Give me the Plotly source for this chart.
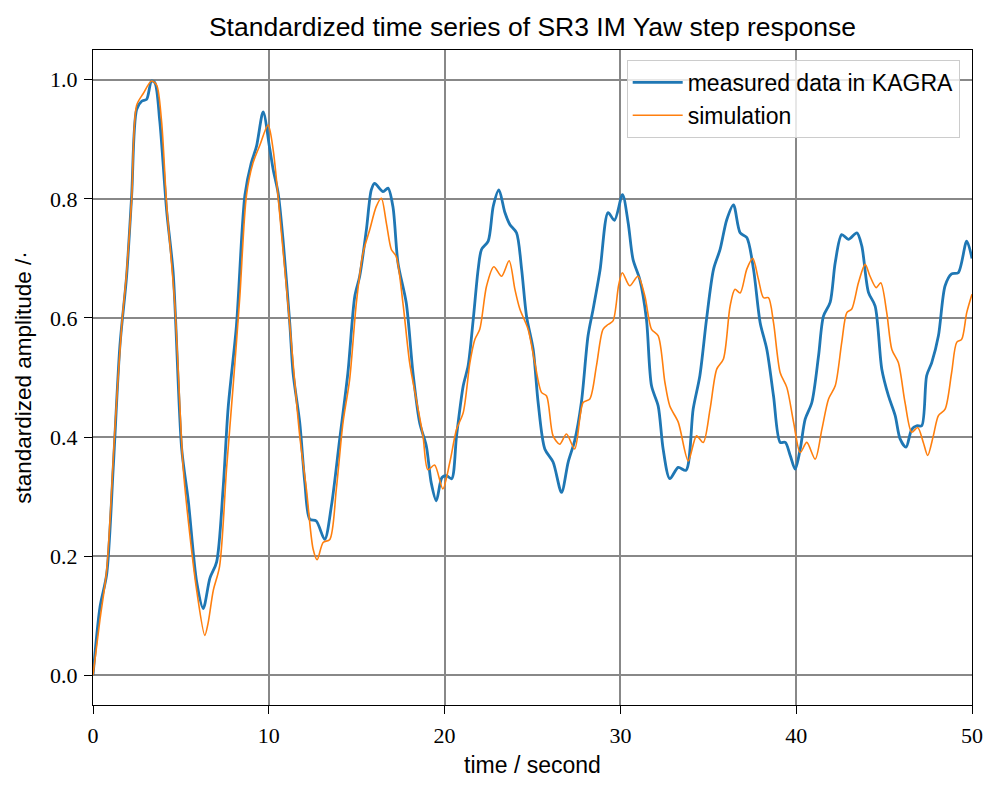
import plotly.graph_objects as go

# Measured step response (KAGRA SR3 IM yaw), standardized
t_meas = [0, 0.4, 0.78, 1.15, 1.53, 1.91, 2.2, 2.48, 2.77, 3.05, 3.33, 3.52, 3.8, 4.19,
          4.56, 5.04, 5.42, 5.9, 6.27, 6.65, 7.03, 7.4, 7.69, 8.16, 8.64, 9.0, 9.3, 9.68,
          10.05, 10.25, 10.53, 10.81, 11.19, 11.38, 11.76, 12.05, 12.33, 12.7, 13.18,
          13.56, 14.03, 14.5, 14.89, 15.17, 15.55, 15.83, 16.02, 16.5, 16.78, 17.06,
          17.35, 17.82, 18.2, 18.58, 18.96, 19.24, 19.53, 19.85, 20.11, 20.4, 20.68,
          21.06, 21.34, 21.63, 21.91, 22.1, 22.48, 22.77, 23.09, 23.43, 23.71, 24.09,
          24.38, 24.66, 25.04, 25.32, 25.7, 26.17, 26.65, 27.03, 27.4, 27.78, 28.16,
          28.45, 28.84, 29.3, 29.66, 30.12, 30.44, 30.72, 31.1, 31.48, 31.77, 32.15,
          32.43, 32.81, 33.29, 33.73, 34.14, 34.52, 34.9, 35.3, 35.67, 36.05, 36.43,
          36.81, 37.19, 37.57, 37.95, 38.33, 38.71, 39.09, 39.38, 39.66, 39.94, 40.23,
          40.51, 40.89, 41.27, 41.55, 41.93, 42.22, 42.59, 42.97, 43.45, 43.73, 44.11,
          44.49, 44.87, 45.25, 45.63, 45.91, 46.25, 46.57, 46.86, 47.14, 47.42, 47.71,
          48.09, 48.47, 48.84, 49.22, 49.7, 50.0]
v_meas = [0.0, 0.115, 0.17, 0.348, 0.553, 0.67, 0.806, 0.95, 0.964, 0.967, 0.998, 0.995,
          0.93, 0.78, 0.676, 0.382, 0.293, 0.156, 0.112, 0.163, 0.19, 0.313, 0.45, 0.587,
          0.806, 0.86, 0.888, 0.946, 0.885, 0.849, 0.81, 0.731, 0.592, 0.508, 0.424,
          0.323, 0.262, 0.259, 0.228, 0.284, 0.396, 0.508, 0.636, 0.67, 0.748, 0.815,
          0.826, 0.812, 0.818, 0.787, 0.692, 0.625, 0.508, 0.424, 0.385, 0.323, 0.293,
          0.332, 0.335, 0.33, 0.402, 0.486, 0.52, 0.598, 0.682, 0.715, 0.729, 0.788,
          0.815, 0.777, 0.757, 0.743, 0.682, 0.603, 0.547, 0.458, 0.38, 0.358, 0.307,
          0.358, 0.394, 0.458, 0.57, 0.615, 0.68, 0.777, 0.764, 0.807, 0.76, 0.698,
          0.665, 0.598, 0.486, 0.452, 0.38, 0.33, 0.349, 0.344, 0.447, 0.503, 0.598,
          0.682, 0.715, 0.765, 0.79, 0.743, 0.735, 0.682, 0.592, 0.547, 0.469, 0.391,
          0.391, 0.369, 0.346, 0.38, 0.43, 0.458, 0.536, 0.603, 0.626, 0.693, 0.74,
          0.732, 0.743, 0.721, 0.643, 0.62, 0.514, 0.469, 0.436, 0.397, 0.383, 0.413,
          0.419, 0.419, 0.503, 0.525, 0.57, 0.654, 0.674, 0.676, 0.729, 0.70]

# Simulated step response
t_sim = [0, 0.4, 0.78, 1.25, 1.63, 1.91, 2.2, 2.48, 2.86, 3.33, 3.62, 3.9, 4.19, 4.66,
         5.13, 5.5, 5.9, 6.36, 6.55, 6.84, 7.2, 7.6, 7.97, 8.35, 8.73, 9.1, 9.49, 9.96,
         10.25, 10.72, 11.1, 11.38, 11.76, 12.14, 12.52, 12.75, 13.09, 13.47, 13.84,
         14.22, 14.6, 14.98, 15.36, 15.74, 16.11, 16.4, 16.69, 16.97, 17.25, 17.63,
         18.01, 18.39, 18.77, 19.05, 19.43, 19.9, 20.3, 20.68, 21.06, 21.44, 21.72,
         22.0, 22.39, 22.8, 23.24, 23.67, 24.0, 24.28, 24.75, 25.13, 25.51, 25.8,
         26.17, 26.55, 26.93, 27.4, 27.88, 28.26, 28.64, 29.01, 29.3, 29.58, 29.9,
         30.11, 30.53, 31.0, 31.39, 31.77, 32.15, 32.53, 32.81, 33.29, 33.86, 34.33,
         34.71, 35.1, 35.48, 35.86, 36.24, 36.52, 36.81, 37.19, 37.53, 37.85, 38.14,
         38.42, 38.71, 39.09, 39.47, 39.85, 40.23, 40.6, 41.08, 41.46, 41.84, 42.22,
         42.59, 42.88, 43.16, 43.54, 43.92, 44.2, 44.55, 44.81, 45.15, 45.44, 45.81,
         46.19, 46.57, 46.91, 47.23, 47.48, 47.8, 48.09, 48.47, 48.84, 49.13, 49.41,
         49.7, 50.0]
v_sim = [0.0, 0.094, 0.177, 0.416, 0.587, 0.676, 0.8, 0.957, 0.977, 0.998, 0.991, 0.93,
         0.79, 0.62, 0.348, 0.238, 0.142, 0.067, 0.088, 0.142, 0.183, 0.348, 0.485,
         0.635, 0.806, 0.86, 0.89, 0.924, 0.882, 0.742, 0.62, 0.525, 0.402, 0.312,
         0.212, 0.194, 0.223, 0.228, 0.312, 0.424, 0.497, 0.625, 0.709, 0.748, 0.787,
         0.801, 0.759, 0.715, 0.703, 0.625, 0.525, 0.463, 0.402, 0.345, 0.353, 0.313,
         0.358, 0.413, 0.441, 0.525, 0.564, 0.581, 0.654, 0.686, 0.67, 0.696, 0.648,
         0.615, 0.581, 0.525, 0.475, 0.469, 0.402, 0.388, 0.405, 0.38, 0.458, 0.464,
         0.52, 0.581, 0.589, 0.595, 0.655, 0.676, 0.654, 0.67, 0.637, 0.581, 0.57,
         0.492, 0.452, 0.425, 0.36, 0.402, 0.391, 0.447, 0.514, 0.531, 0.62, 0.648,
         0.642, 0.682, 0.7, 0.665, 0.634, 0.634, 0.592, 0.508, 0.483, 0.425, 0.374,
         0.391, 0.363, 0.413, 0.464, 0.486, 0.559, 0.609, 0.615, 0.659, 0.69, 0.67,
         0.651, 0.659, 0.609, 0.547, 0.525, 0.458, 0.408, 0.416, 0.391, 0.369, 0.402,
         0.436, 0.447, 0.508, 0.559, 0.564, 0.609, 0.64]

x_ticks = [0, 10, 20, 30, 40, 50]
y_ticks = [0.0, 0.2, 0.4, 0.6, 0.8, 1.0]
y_tick_labels = ["0.0", "0.2", "0.4", "0.6", "0.8", "1.0"]

SANS = "Liberation Sans"
SERIF = "Liberation Serif"

fig = go.Figure()
fig.add_trace(go.Scatter(
    x=t_meas, y=v_meas, mode="lines", name="measured data in KAGRA",
    line=dict(color="#1f77b4", width=2.8, shape="spline", smoothing=0.8),
))
fig.add_trace(go.Scatter(
    x=t_sim, y=v_sim, mode="lines", name="simulation",
    line=dict(color="#ff7f0e", width=1.6, shape="spline", smoothing=0.8),
))

axis_common = dict(
    showline=True, linecolor="black", linewidth=1.3, mirror=True,
    ticks="outside", ticklen=8, tickwidth=1.2, tickcolor="black",
    ticklabelstandoff=2,
    showgrid=True, gridcolor="#888888", gridwidth=1.5, zeroline=False,
    automargin=False,
    tickfont=dict(family=SERIF, size=22, color="black"),
)

fig.update_layout(
    width=989, height=786,
    margin=dict(l=93, r=17, t=50, b=81),
    paper_bgcolor="white", plot_bgcolor="white",
    title=dict(text="Standardized time series of SR3 IM Yaw step response",
               x=0.5, xanchor="center", xref="paper",
               y=1 - 27 / 786, yref="container", yanchor="middle",
               font=dict(family=SANS, size=26.5, color="black")),
    xaxis=dict(range=[0, 50], tickvals=x_ticks,
               title=dict(text="time / second", standoff=10,
                          font=dict(family=SANS, size=23, color="black")),
               **axis_common),
    yaxis=dict(range=[-0.05, 1.05], tickvals=y_ticks, ticktext=y_tick_labels,
               title=dict(text="standardized amplitude /·", standoff=12,
                          font=dict(family=SANS, size=22.5, color="black")),
               **axis_common),
    legend=dict(x=0.986, y=0.985, xanchor="right", yanchor="top",
                bgcolor="rgba(255,255,255,0.8)", bordercolor="#cccccc", borderwidth=1,
                font=dict(family=SANS, size=23, color="black"),
                tracegroupgap=4, itemwidth=50),
    showlegend=True,
)

fig.write_html("out.html")
